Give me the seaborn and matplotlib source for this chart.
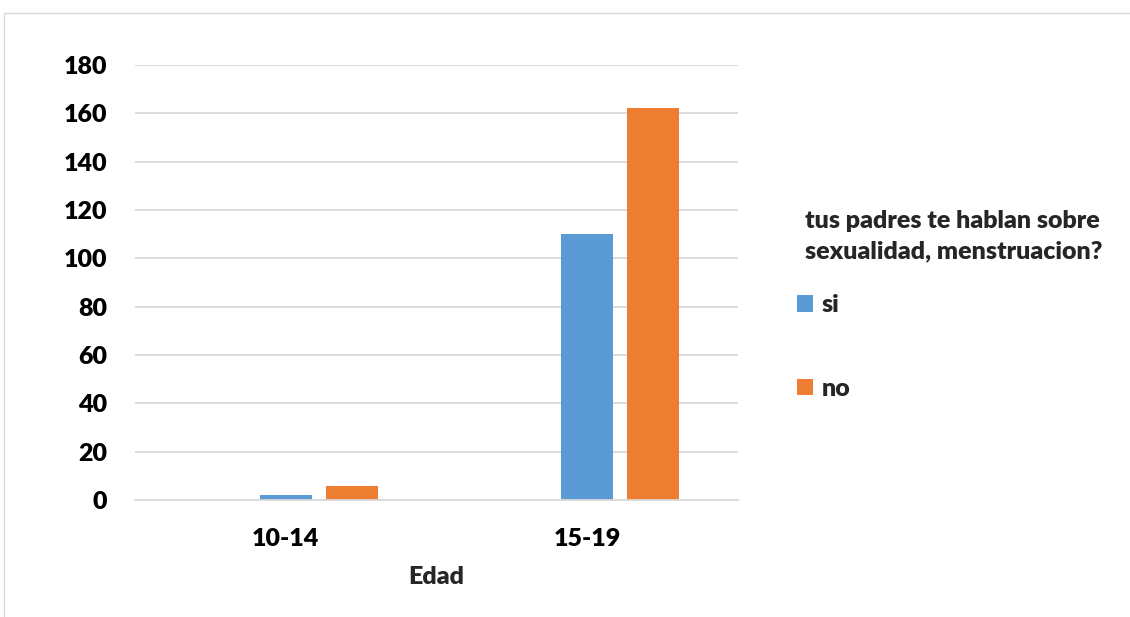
import matplotlib
matplotlib.use("Agg")
import matplotlib.pyplot as plt
from matplotlib.patches import Patch, Rectangle
import seaborn as sns
import pandas as pd

# Data
categories = ["10-14", "15-19"]
series_names = ["", "si", "no"]          # first series is empty in the workbook
values_blank = [0, 0]
values_si = [2, 110]
values_no = [6, 162]

colors = {"": "#FFFFFF", "si": "#5B9BD5", "no": "#ED7D31"}

rows = []
for name, vals in zip(series_names, [values_blank, values_si, values_no]):
    for cat, v in zip(categories, vals):
        rows.append({"Edad": cat, "serie": name, "valor": v})
df = pd.DataFrame(rows)

sns.set_theme(style="white")
plt.rcParams["font.family"] = ["Lato", "DejaVu Sans"]

FS = 18
W = "heavy"

fig = plt.figure(figsize=(11.3, 6.17), dpi=100)
ax = fig.add_axes([135 / 1130, 1 - 500 / 617, (738 - 135) / 1130, (500 - 65) / 617])

sns.barplot(data=df, x="Edad", y="valor", hue="serie", hue_order=series_names,
            order=categories, palette=colors, width=0.657, gap=0.214,
            linewidth=0, saturation=1, legend=False, ax=ax)

ax.set_ylim(0, 180)
ax.set_yticks(range(0, 181, 20))
ax.yaxis.grid(True, color="#D9D9D9", linewidth=1.3)
ax.set_axisbelow(True)
for side in ["top", "right", "left"]:
    ax.spines[side].set_visible(False)
ax.spines["bottom"].set_color("#D9D9D9")
ax.spines["bottom"].set_linewidth(1.3)
ax.tick_params(axis="both", length=0, labelsize=FS, colors="black")
ax.tick_params(axis="y", pad=20)
ax.tick_params(axis="x", pad=20)
for lbl in ax.get_xticklabels() + ax.get_yticklabels():
    lbl.set_fontweight(W)
ax.set_ylabel("")
ax.set_xlabel("Edad", fontsize=FS, fontweight=W, labelpad=12)

# Legend title and entries
fig.text(805 / 1130, 1 - 236 / 617, "tus padres te hablan sobre\nsexualidad, menstruacion?",
         fontsize=FS, fontweight=W, va="center", ha="left", linespacing=1.5)
handles = [Patch(facecolor=colors["si"], edgecolor="none"),
           Patch(facecolor=colors["no"], edgecolor="none")]
fig.legend(handles, ["si", "no"], loc="upper left",
           bbox_to_anchor=(774 / 1130, 1 - 272 / 617), frameon=False,
           prop={"size": FS, "weight": W}, handlelength=0.65, handleheight=0.65,
           handletextpad=0.35, labelspacing=2.45)

# Chart area border
fig.patches.append(Rectangle((4 / 1130, -0.1), 1.2, 1.1 - 13 / 617,
                             transform=fig.transFigure, fill=False,
                             edgecolor="#D9D9D9", linewidth=1))

fig.savefig("out.png", dpi=100)
